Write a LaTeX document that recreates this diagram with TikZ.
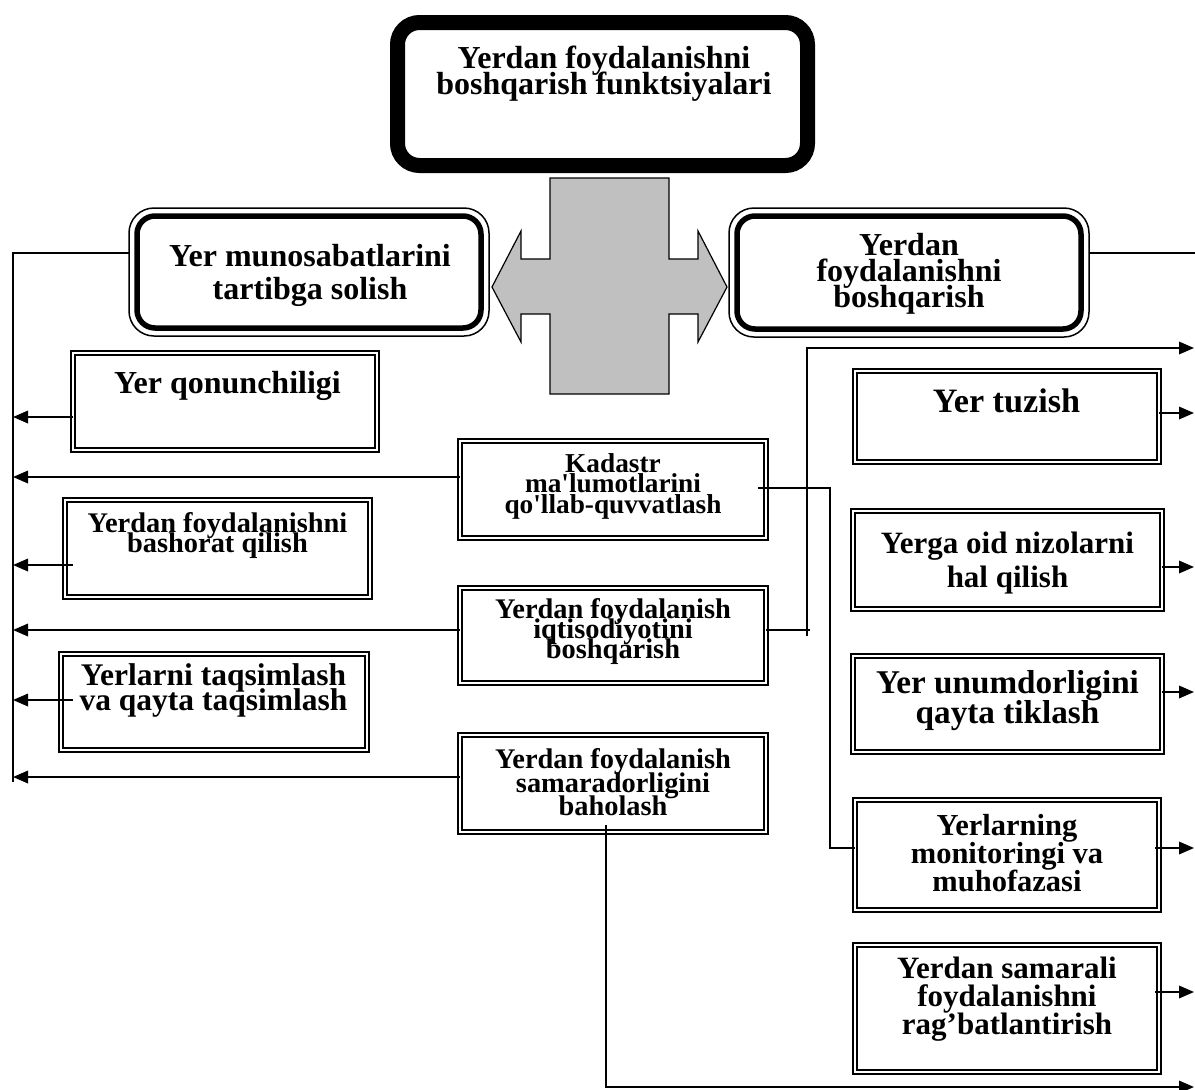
\documentclass[tikz,border=0pt]{standalone}
\usepackage{fontspec}
\setmainfont{Liberation Serif}
\usetikzlibrary{arrows.meta,calc}
\definecolor{crossgray}{HTML}{C0C0C0}
\newcommand\myfs[2]{\fontsize{#1}{#2}\selectfont\bfseries\lineskiplimit=-50pt\relax}
\begin{document}
\begin{tikzpicture}[x=1pt,y=-1pt,
  ln/.style={line width=1.8pt},
  arr/.style={line width=1.8pt,-{Triangle[length=15pt,width=12.5pt]}},
  dbox/.style={draw,line width=2.2pt,double=white,double distance=2pt,inner sep=0,outer sep=0},
  rbox/.style={draw,line width=1.5pt,rounded corners=25pt,inner sep=0,outer sep=0},
  lbl/.style={anchor=north,inner sep=0,align=center}]
\useasboundingbox (0,0) rectangle (1195,1090);
\fill[white] (0,0) rectangle (1195,1090);

% central cross arrow
\draw[fill=crossgray,line width=1.2pt,line join=miter]
  (550,178) -- (669,178) -- (669,259) -- (698,259) -- (698,231) -- (727,287)
  -- (698,342) -- (698,314) -- (669,314) -- (669,394) -- (550,394) -- (550,314)
  -- (521,314) -- (521,342) -- (492,287) -- (521,231) -- (521,259) -- (550,259) -- cycle;

% title box
\node[draw,line width=15pt,rounded corners=22pt,minimum width=410pt,minimum height=143pt,inner sep=0,outer sep=0] (top) at (602.5,94) {};
\node[lbl,font=\myfs{32}{26}] (topT) at (604,45.9) {Yerdan foydalanishni\\boshqarish funktsiyalari};

% rounded double boxes
\node[rbox,minimum width=360pt,minimum height=128pt] (munos) at (309,272) {};
\draw[line width=5.5pt,rounded corners=18pt] ([shift={(8,8)}]munos.north west) rectangle ([shift={(-8,-8)}]munos.south east);
\node[lbl,font=\myfs{32}{33}] (munosT) at (310,243.9) {Yer munosabatlarini\\tartibga solish};

\node[rbox,minimum width=360pt,minimum height=129pt] (rbig) at (909,272.5) {};
\draw[line width=5.5pt,rounded corners=18pt] ([shift={(8,8)}]rbig.north west) rectangle ([shift={(-8,-8)}]rbig.south east);
\node[lbl,font=\myfs{32}{26}] (rbigT) at (909,232.9) {Yerdan\\foydalanishni\\boshqarish};

% left column boxes
\node[dbox,minimum width=303.6pt,minimum height=96.6pt] (qonun) at (225,401.5) {};
\node[lbl,font=\myfs{32}{32}] (qonunT) at (227.5,370.6) {Yer qonunchiligi};

\node[dbox,minimum width=304.6pt,minimum height=96.6pt] (bashorat) at (217.5,548.5) {};
\node[lbl,font=\myfs{28.4}{20}] (bashoratT) at (217.5,512.4) {Yerdan foydalanishni\\bashorat qilish};

\node[dbox,minimum width=305.6pt,minimum height=95.6pt] (yerlarni) at (214,702) {};
\node[lbl,font=\myfs{31.5}{25}] (yerlarniT) at (213.5,663.3) {Yerlarni taqsimlash\\va qayta taqsimlash};

% middle column boxes
\node[dbox,minimum width=305.6pt,minimum height=96.6pt] (kadastr) at (613,489.5) {};
\node[lbl,font=\myfs{27.3}{20.5}] (kadastrT) at (613,453.2) {Kadastr\\ma\textquotesingle lumotlarini\\qo\textquotesingle llab-quvvatlash};

\node[dbox,minimum width=305.6pt,minimum height=94.6pt] (iqtisod) at (613,635.5) {};
\node[lbl,font=\myfs{28.4}{20}] (iqtisodT) at (613,598.4) {Yerdan foydalanish\\iqtisodiyotini\\boshqarish};

\node[dbox,minimum width=305.6pt,minimum height=96.6pt] (baholash) at (613,783.5) {};
\node[lbl,font=\myfs{28.4}{23.5}] (baholashT) at (613,748.4) {Yerdan foydalanish\\samaradorligini\\baholash};

% right column boxes
\node[dbox,minimum width=303.6pt,minimum height=90.6pt] (tuzish) at (1007,416.5) {};
\node[lbl,font=\myfs{34.2}{34}] (tuzishT) at (1006.5,388.4) {Yer tuzish};

\node[dbox,minimum width=308.6pt,minimum height=97.6pt] (yerga) at (1007.5,560) {};
\node[lbl,font=\myfs{31}{34}] (yergaT) at (1007.5,531.6) {Yerga oid nizolarni\\hal qilish};

\node[dbox,minimum width=308.6pt,minimum height=95.6pt] (unum) at (1007.5,704) {};
\node[lbl,font=\myfs{33.2}{30}] (unumT) at (1007.5,670.1) {Yer unumdorligini\\qayta tiklash};

\node[dbox,minimum width=303.6pt,minimum height=109.6pt] (monit) at (1007,855) {};
\node[lbl,font=\myfs{30.5}{28}] (monitT) at (1007,814) {Yerlarning\\monitoringi va\\muhofazasi};

\node[dbox,minimum width=303.6pt,minimum height=126.6pt] (samarali) at (1007,1008.5) {};
\node[lbl,font=\myfs{31}{28}] (samaraliT) at (1007,956.6) {Yerdan samarali\\foydalanishni\\rag’batlantirish};

% bus coordinates
\coordinate (busTop) at (13,253);
\coordinate (busBot) at (13,782);
\coordinate (edgeR) at (1195,0);
\coordinate (tipR) at (1194,0);
\coordinate (kx) at (830,0);
\coordinate (upTurn) at (807,348);
\coordinate (vLow) at (807,636);
\coordinate (botY) at (0,1087);

% left bus
\draw[ln] ([yshift=19pt]munos.west) -- (busTop) -- (busBot);
\draw[arr] ([xshift=-0.2pt,yshift=-15.5pt]qonun.west) coordinate (q1) -- (q1 -| busTop);
\draw[arr] ([yshift=12.5pt]kadastr.west) coordinate (k0) -- (k0 -| busTop);
\draw[arr] ([xshift=8pt,yshift=-16.5pt]bashorat.west) coordinate (b0) -- (b0 -| busTop);
\draw[arr] ([yshift=5.5pt]iqtisod.west) coordinate (i0) -- (i0 -| busTop);
\draw[arr] ([xshift=12pt,yshift=2pt]yerlarni.west) coordinate (y0) -- (y0 -| busTop);
\draw[arr] ([yshift=6.5pt]baholash.west) coordinate (h0) -- (h0 -| busTop);

% right side
\draw[ln] ([yshift=19.5pt]rbig.east) coordinate (r1) -- (r1 -| edgeR);
\draw[ln] ([yshift=5.5pt]iqtisod.east) -- ++(44,0);
\draw[arr] (vLow) -- (upTurn) -- (upTurn -| tipR);
\draw[arr] ([yshift=3.5pt]tuzish.east) coordinate (t1) -- (t1 -| tipR);
\path ([yshift=7pt]monit.west) coordinate (m0);
\draw[ln] ([xshift=-8pt,yshift=1.5pt]kadastr.east) coordinate (k1) -- (k1 -| kx) -- (kx |- m0) -- (m0);
\draw[arr] ([yshift=-7pt]yerga.east) coordinate (g1) -- (g1 -| tipR);
\draw[arr] ([yshift=12pt]unum.east) coordinate (u1) -- (u1 -| tipR);
\draw[arr] ([xshift=-4pt,yshift=7pt]monit.east) coordinate (m1) -- (m1 -| tipR);
\draw[arr] ([xshift=-4pt,yshift=16.5pt]samarali.east) coordinate (s1) -- (s1 -| tipR);
\draw[arr] ([xshift=-7pt,yshift=6.8pt]baholash.south) coordinate (bb) -- (bb |- botY) -- (botY -| tipR);
\end{tikzpicture}
\end{document}
